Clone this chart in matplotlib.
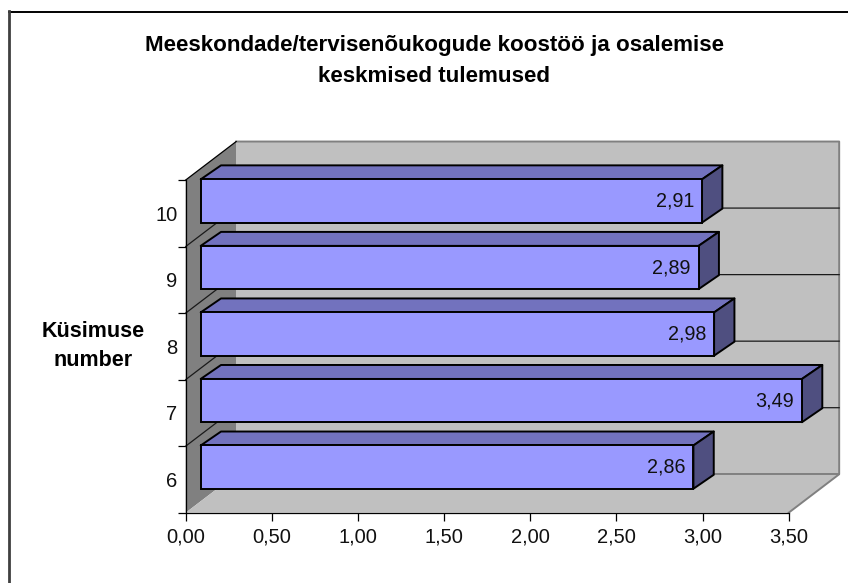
import matplotlib
matplotlib.use("Agg")
import matplotlib.pyplot as plt

plt.rcParams["font.family"] = ["Liberation Sans", "DejaVu Sans"]

# === Data ===
categories = ["6", "7", "8", "9", "10"]
values = [2.86, 3.49, 2.98, 2.89, 2.91]
value_labels = ["2,86", "3,49", "2,98", "2,89", "2,91"]
x_ticks = [0, 0.5, 1, 1.5, 2, 2.5, 3, 3.5]
x_labels = ["0,00", "0,50", "1,00", "1,50", "2,00", "2,50", "3,00", "3,50"]
title = "Meeskondade/tervisenõukogude koostöö ja osalemise\nkeskmised tulemused"
y_title = "Küsimuse\nnumber"

W, H = 848, 583
fig = plt.figure(figsize=(W / 100, H / 100), dpi=100, facecolor="white")
ax = fig.add_axes([185.7 / W, (H - 512.7) / H, 603 / W, 332.7 / H])
ax.set_xlim(0, 3.5)
ax.set_ylim(0, 5)
ax.patch.set_visible(False)

# === 3D look, in data units ===
wall_dx, wall_dy = 0.293, 0.578   # depth of the plot box
off_x, off_y = 0.087, 0.185       # bar front relative to the front plane
bar_dx, bar_dy = 0.118, 0.21      # depth of a bar
bar_h = 0.65

edge = "#808080"
ax.fill([0, wall_dx, wall_dx, 0], [0, wall_dy, 5 + wall_dy, 5], color="#808080", lw=0, clip_on=False, zorder=1)
ax.fill([wall_dx, 3.5 + wall_dx, 3.5 + wall_dx, wall_dx], [wall_dy, wall_dy, 5 + wall_dy, 5 + wall_dy],
        color="#C0C0C0", lw=0, clip_on=False, zorder=1)
ax.fill([0, 3.5, 3.5 + wall_dx, wall_dx], [0, 0, wall_dy, wall_dy], color="#C0C0C0", lw=0, clip_on=False, zorder=1)

# wall outlines
ax.plot([wall_dx, 3.5 + wall_dx, 3.5 + wall_dx, 3.5], [5 + wall_dy, 5 + wall_dy, wall_dy, 0],
        color=edge, lw=1.4, clip_on=False, zorder=2)
ax.plot([wall_dx, 3.5 + wall_dx], [wall_dy, wall_dy], color=edge, lw=1.4, clip_on=False, zorder=2)
ax.plot([0, wall_dx], [5, 5 + wall_dy], color="black", lw=0.9, clip_on=False, zorder=2)

# gridlines on the walls
for k in range(1, 5):
    ax.plot([0, wall_dx, 3.5 + wall_dx], [k, k + wall_dy, k + wall_dy], color="#1a1a1a", lw=0.9,
            clip_on=False, zorder=2)

# === Bars, back to front ===
for i in range(len(values) - 1, -1, -1):
    v = values[i]
    x0 = off_x
    x1 = off_x + v
    y0 = i + 0.5 + off_y - bar_h / 2
    y1 = y0 + bar_h
    z = 3 + (len(values) - i) * 0.1
    ax.fill([x0, x1, x1 + bar_dx, x0 + bar_dx], [y1, y1, y1 + bar_dy, y1 + bar_dy], facecolor="#7272BE",
            edgecolor="black", lw=1.4, clip_on=False, zorder=z, joinstyle="round")
    ax.fill([x1, x1 + bar_dx, x1 + bar_dx, x1], [y0, y0 + bar_dy, y1 + bar_dy, y1], facecolor="#4F4F80",
            edgecolor="black", lw=1.4, clip_on=False, zorder=z, joinstyle="round")
    ax.barh(i + 0.5 + off_y, v, height=bar_h, left=x0, color="#9999FF", edgecolor="black", lw=1.4,
            clip_on=False, zorder=z)
    ax.text(x1 - 0.045, i + 0.5 + off_y, value_labels[i], ha="right", va="center", fontsize=14.2,
            color="#111111", zorder=z + 0.05)

# === Axes ===
for s in ["top", "right"]:
    ax.spines[s].set_visible(False)
for s in ["left", "bottom"]:
    ax.spines[s].set_linewidth(0.9)
    ax.spines[s].set_zorder(2.5)

ax.set_xticks(x_ticks)
ax.set_xticklabels(x_labels, fontsize=14.5, color="#111111")
ax.tick_params(axis="x", length=5.5, width=0.9, pad=5)
ax.set_yticks(range(6))
ax.set_yticklabels([])
ax.set_yticks([i + 0.5 for i in range(5)], minor=True)
ax.set_yticklabels(categories, minor=True, fontsize=14.5, color="#111111")
ax.tick_params(axis="y", which="major", length=5.5, width=0.9)
ax.tick_params(axis="y", which="minor", length=0, pad=6)

fig.text(434.5 / W, 1 - 61 / H, title, ha="center", va="center", fontsize=16.1, fontweight="bold",
         linespacing=1.65)
fig.text(93 / W, 1 - 346 / H, y_title, ha="center", va="center", fontsize=15.5, fontweight="bold",
         linespacing=1.5)

# partial chart frame: only top and left edges show
fig.add_artist(plt.Line2D([9 / W, 1], [1 - 11.5 / H, 1 - 11.5 / H], color="black", lw=1.4))
fig.add_artist(plt.Line2D([9 / W, 9 / W], [0, 1 - 11 / H], color="#404040", lw=2.0))

fig.savefig("out.png", dpi=100)
